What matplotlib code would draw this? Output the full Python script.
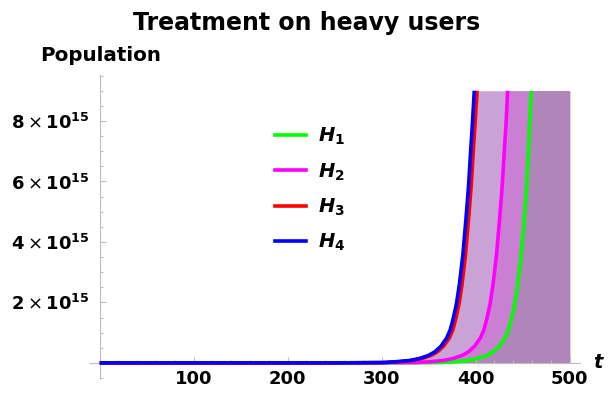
import matplotlib
matplotlib.use("Agg")
import matplotlib.pyplot as plt
from matplotlib.ticker import FixedLocator, MultipleLocator, FuncFormatter
from matplotlib.lines import Line2D

plt.rcParams['font.family'] = ['DejaVu Sans']
plt.rcParams['mathtext.fontset'] = 'dejavusans'

SCALE = 1e15
T_END = 500
Y_CAP = 9.0  # plot range top (in units of 1e15)

# H4 (blue)
t_h4 = [0, 250, 300, 316, 330, 340.7, 350, 356.7, 363, 369.1, 373, 376.2, 379.5, 382.6, 386.3, 389.7, 392.3, 394.6, 396.6, 398.5]
v_h4 = [0, 0.0, 0.01, 0.04, 0.08, 0.15, 0.25, 0.37, 0.55, 0.82, 1.1, 1.48, 1.95, 2.58, 3.55, 4.78, 5.8, 6.98, 7.95, 9.0]
# H3 (red)
t_h3 = [0, 250, 302.8, 318.8, 332.8, 343.5, 352.8, 359.5, 365.8, 371.9, 375.8, 379.0, 382.3, 385.4, 389.1, 392.5, 395.1, 397.4, 399.4, 401.5]
v_h3 = [0, 0.0, 0.01, 0.04, 0.08, 0.15, 0.25, 0.37, 0.55, 0.82, 1.1, 1.48, 1.95, 2.58, 3.55, 4.78, 5.8, 6.98, 7.95, 9.0]
# H2 (magenta)
t_h2 = [0, 250, 335.8, 351.8, 365.8, 376.5, 385.8, 392.5, 398.8, 404.9, 408.8, 412.0, 415.3, 418.4, 422.1, 425.5, 428.1, 430.4, 432.4, 434.0]
v_h2 = [0, 0.0, 0.01, 0.04, 0.08, 0.15, 0.25, 0.37, 0.55, 0.82, 1.1, 1.48, 1.95, 2.58, 3.55, 4.78, 5.8, 6.98, 7.95, 9.0]
# H1 (green)
t_h1 = [0, 250, 362, 378, 392, 402.7, 412, 418.7, 425, 431.1, 435, 438.2, 441.5, 444.6, 448.3, 451.7, 454.1, 456.0, 457.4, 459.0]
v_h1 = [0, 0.0, 0.01, 0.04, 0.08, 0.15, 0.25, 0.37, 0.55, 0.82, 1.1, 1.48, 1.95, 2.58, 3.55, 4.78, 5.8, 6.98, 7.95, 9.0]

labels = [r'$\mathbfit{H}_{\mathbf{1}}$', r'$\mathbfit{H}_{\mathbf{2}}$',
          r'$\mathbfit{H}_{\mathbf{3}}$', r'$\mathbfit{H}_{\mathbf{4}}$']
colors = ['#00FF00', '#FF00FF', '#FF0000', '#0000FF']
x_ticks = [100, 200, 300, 400, 500]
y_ticks = [2, 4, 6, 8]

fig = plt.figure(figsize=(6.09, 3.94), dpi=100)
ax = fig.add_axes([0.1475, 0.0406, 0.8049, 0.769])
ax.set_xlim(-10.5, 511)
ax.set_ylim(-0.5 * SCALE, 9.52 * SCALE)

def sc(v):
    return [x * SCALE for x in v]

# fills (regions under curves, extended to t=500 at plot top)
fill_specs = [(t_h4, v_h4, '#C9A3D6'), (t_h2, v_h2, '#C97FD2'), (t_h1, v_h1, '#B086BA')]
for t, v, c in fill_specs:
    ax.fill_between(t + [T_END], 0, sc(v + [Y_CAP]), color=c, lw=0, zorder=1)

series = [(t_h1, v_h1), (t_h2, v_h2), (t_h3, v_h3), (t_h4, v_h4)]
for (t, v), c in zip(series, colors):
    ax.plot(t, sc(v), color=c, lw=2.6, solid_capstyle='butt', zorder=3)

for s in ['top', 'right']:
    ax.spines[s].set_visible(False)
ax.spines['left'].set_position(('data', 0))
ax.spines['bottom'].set_position(('data', 0))
for s in ['left', 'bottom']:
    ax.spines[s].set_color('#BDBDBD')
    ax.spines[s].set_linewidth(0.8)

ax.xaxis.set_major_locator(FixedLocator(x_ticks))
ax.xaxis.set_minor_locator(MultipleLocator(20))
ax.yaxis.set_major_locator(FixedLocator([y * SCALE for y in y_ticks]))
ax.yaxis.set_minor_locator(MultipleLocator(0.5 * SCALE))
ax.yaxis.set_major_formatter(FuncFormatter(lambda v, p: r'$\mathbf{%d}\times\mathbf{10^{15}}$' % round(v / SCALE)))
ax.xaxis.set_major_formatter(FuncFormatter(lambda v, p: '%d' % v))
ax.tick_params(which='both', direction='in', color='#BDBDBD', width=0.8)
ax.tick_params(which='major', length=4)
ax.tick_params(which='minor', length=2.5)
ax.tick_params(axis='x', which='major', labelsize=13, pad=5)
ax.tick_params(axis='y', which='major', labelsize=13, pad=7)
for lab in ax.get_xticklabels():
    lab.set_fontweight('bold')

fig.text(0.5038, 0.9239, 'Treatment on heavy users', ha='center', va='baseline',
         fontsize=17, fontweight='bold')
fig.text(0.0657, 0.846, 'Population', ha='left', va='baseline', fontsize=14.3, fontweight='bold')
fig.text(0.974, 0.066, 't', ha='left', va='baseline', fontsize=14, fontweight='bold', fontstyle='italic')

handles = [Line2D([0], [0], color=c, lw=2.6) for c in colors]
leg = ax.legend(handles, labels, loc='upper left', bbox_to_anchor=(0.435, 0.705),
                bbox_transform=fig.transFigure, frameon=False, fontsize=14,
                handlelength=1.6, handletextpad=0.62, labelspacing=0.72, borderpad=0)

fig.savefig('out.png', dpi=100)
